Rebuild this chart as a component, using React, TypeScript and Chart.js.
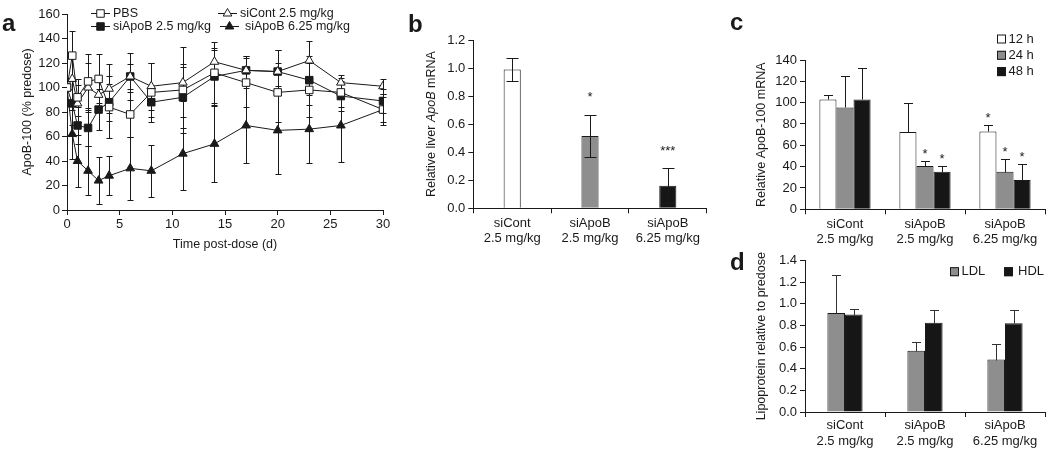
import React, { useEffect, useRef } from 'react';
import { Chart, registerables } from 'chart.js';

Chart.register(...registerables);

const FONT = '"Liberation Sans", Arial, Helvetica, sans-serif';
const INK = '#1a1a1a';
const GRAY = '#8e8e8e';
const WHITE = '#ffffff';
const BLACK = '#161616';

// ---------------- Panel a : ApoB-100 time course ----------------
const days = [0, 0.5, 1, 2, 3, 4, 6, 8, 11, 14, 17, 20, 23, 26, 30];
const pbs = [100, 126, 92, 105, 107, 84, 78, 96, 98, 112, 104, 96, 98, 96, 82];
const pbsErr = [0, 20, 15, 22, 20, 25, 18, 24, 35, 25, 20, 24, 22, 12, 10];
const siCont = [100, 107, 87, 100, 94, 99, 109, 101, 104, 121, 114, 113, 122, 104, 101];
const siContErr = [0, 18, 15, 20, 12, 20, 10, 19, 15, 10, 12, 18, 16, 6, 6];
const siApoB25 = [100, 87, 69, 67, 82, 88, 109, 88, 92, 109, 114, 113, 106, 93, 89];
const siApoB25Err = [0, 18, 15, 15, 17, 15, 19, 12, 25, 23, 12, 18, 20, 12, 10];
const siApoB625 = [100, 62, 40, 32, 24, 28, 34, 32, 46, 54, 69, 65, 66, 69, 82];
const siApoB625Err = [0, 20, 21, 20, 19, 16, 26, 21, 30, 31, 31, 36, 28, 30, 13];
const aXTicks = [0, 5, 10, 15, 20, 25, 30];
const aYTicks = [0, 20, 40, 60, 80, 100, 120, 140, 160];

// ---------------- shared categories ----------------
const doseGroups = [
  ['siCont', '2.5 mg/kg'],
  ['siApoB', '2.5 mg/kg'],
  ['siApoB', '6.25 mg/kg'],
];

// ---------------- Panel b : liver ApoB mRNA ----------------
const liverMRNA = [0.99, 0.515, 0.16];
const liverErr = [0.085, 0.15, 0.125];
const liverSig = ['', '*', '***'];
const bYTicks = [0, 0.2, 0.4, 0.6, 0.8, 1.0, 1.2];

// ---------------- Panel c : ApoB-100 mRNA over time ----------------
const mrna12h = [103, 72.5, 73];
const mrna12hErr = [4.5, 27, 6];
const mrna24h = [95.5, 40.5, 35.3];
const mrna24hErr = [29.5, 4.8, 12];
const mrna48h = [103, 35.3, 27.5];
const mrna48hErr = [29.5, 5.3, 15.3];
const sig12h = ['', '', '*'];
const sig24h = ['', '*', '*'];
const sig48h = ['', '*', '*'];
const cYTicks = [0, 20, 40, 60, 80, 100, 120, 140];

// ---------------- Panel d : lipoproteins ----------------
const ldl = [0.915, 0.565, 0.485];
const ldlErr = [0.355, 0.08, 0.14];
const hdl = [0.9, 0.825, 0.82];
const hdlErr = [0.055, 0.12, 0.125];
const dYTicks = [0, 0.2, 0.4, 0.6, 0.8, 1.0, 1.2, 1.4];

// ---------------- helpers ----------------
const tickFont = { family: FONT, size: 13 };

function axisBase(extra: any = {}) {
  return {
    border: { display: true, color: INK, width: 1 },
    grid: {
      display: true,
      drawOnChartArea: false,
      drawTicks: true,
      tickLength: 5,
      color: INK,
      tickColor: INK,
      tickWidth: 1,
    },
    ...extra,
  };
}

function errorBarPlugin(errs: number[][], opts: { both: boolean; cap: number; front: boolean; color?: string }) {
  const draw = (chart: any) => {
    const ctx = chart.ctx;
    const yScale = chart.scales.y;
    ctx.save();
    ctx.strokeStyle = opts.color || INK;
    ctx.lineWidth = 1;
    chart.data.datasets.forEach((ds: any, i: number) => {
      const err = errs[i];
      if (!err) return;
      const meta = chart.getDatasetMeta(i);
      meta.data.forEach((el: any, j: number) => {
        const e = err[j];
        if (!e) return;
        const raw = ds.data[j];
        const v = typeof raw === 'number' ? raw : raw.y;
        const x = Math.round(el.x) + 0.5;
        const yTop = Math.round(yScale.getPixelForValue(v + e)) + 0.5;
        const yBot = Math.round(yScale.getPixelForValue(opts.both ? Math.max(0, v - e) : v)) + 0.5;
        ctx.beginPath();
        ctx.moveTo(x, yTop);
        ctx.lineTo(x, yBot);
        ctx.moveTo(x - opts.cap, yTop);
        ctx.lineTo(x + opts.cap, yTop);
        if (opts.both) {
          ctx.moveTo(x - opts.cap, yBot);
          ctx.lineTo(x + opts.cap, yBot);
        }
        ctx.stroke();
      });
    });
    ctx.restore();
  };
  return opts.front ? { id: 'errbars', afterDatasetsDraw: draw } : { id: 'errbars', beforeDatasetsDraw: draw };
}

function starsPlugin(sigs: string[][], errs: number[][], gap: number) {
  return {
    id: 'stars',
    afterDatasetsDraw(chart: any) {
      const ctx = chart.ctx;
      const y = chart.scales.y;
      ctx.save();
      ctx.fillStyle = INK;
      ctx.font = `13px ${FONT}`;
      ctx.textAlign = 'center';
      ctx.textBaseline = 'alphabetic';
      chart.data.datasets.forEach((ds: any, i: number) => {
        const s = sigs[i];
        if (!s) return;
        const meta = chart.getDatasetMeta(i);
        meta.data.forEach((el: any, j: number) => {
          if (!s[j]) return;
          const top = y.getPixelForValue(ds.data[j] + errs[i][j]);
          ctx.fillText(s[j], el.x, top - gap + 0.57 * 13);
        });
      });
      ctx.restore();
    },
  };
}

function drawRotated(ctx: any, parts: [string, string][], cx: number, cy: number) {
  ctx.save();
  ctx.translate(cx, cy);
  ctx.rotate(-Math.PI / 2);
  ctx.textBaseline = 'middle';
  ctx.textAlign = 'left';
  ctx.fillStyle = INK;
  let total = 0;
  for (const [t, f] of parts) {
    ctx.font = f;
    total += ctx.measureText(t).width;
  }
  let x = -total / 2;
  for (const [t, f] of parts) {
    ctx.font = f;
    ctx.fillText(t, x, 0);
    x += ctx.measureText(t).width;
  }
  ctx.restore();
}

function drawLetter(ctx: any, letter: string, x: number, y: number) {
  ctx.save();
  ctx.font = `bold 24px ${FONT}`;
  ctx.fillStyle = INK;
  ctx.textAlign = 'left';
  ctx.textBaseline = 'alphabetic';
  ctx.fillText(letter, x, y);
  ctx.restore();
}

function drawMarker(ctx: any, style: string, filled: boolean, x: number, y: number) {
  ctx.save();
  ctx.fillStyle = filled ? INK : WHITE;
  ctx.strokeStyle = INK;
  ctx.lineWidth = 1;
  ctx.beginPath();
  if (style === 'rect') {
    const s = 3.75;
    ctx.rect(x - s, y - s, 2 * s, 2 * s);
  } else {
    const r = 5;
    ctx.moveTo(x, y - r);
    ctx.lineTo(x + r * 0.866, y + r * 0.5);
    ctx.lineTo(x - r * 0.866, y + r * 0.5);
    ctx.closePath();
  }
  ctx.fill();
  ctx.stroke();
  ctx.restore();
}

function drawBox(ctx: any, color: string, x: number, yc: number) {
  ctx.save();
  ctx.fillStyle = color;
  ctx.strokeStyle = INK;
  ctx.lineWidth = 1;
  ctx.fillRect(x, yc - 4.5, 9, 9);
  ctx.strokeRect(x + 0.5, yc - 4, 8, 8);
  ctx.restore();
}

function drawLabel(ctx: any, text: string, x: number, y: number, size = 13) {
  ctx.save();
  ctx.font = `${size}px ${FONT}`;
  ctx.fillStyle = INK;
  ctx.textAlign = 'left';
  ctx.textBaseline = 'middle';
  ctx.fillText(text, x, y);
  ctx.restore();
}

const TITLE_FONT = `12.5px ${FONT}`;
const TITLE_FONT_I = `italic 12.5px ${FONT}`;

// ---------------- chart configs ----------------
const seriesA = [
  { label: 'PBS', data: pbs, err: pbsErr, style: 'rect', filled: false },
  { label: 'siCont 2.5 mg/kg', data: siCont, err: siContErr, style: 'triangle', filled: false },
  { label: 'siApoB 2.5 mg/kg', data: siApoB25, err: siApoB25Err, style: 'rect', filled: true },
  { label: 'siApoB 6.25 mg/kg', data: siApoB625, err: siApoB625Err, style: 'triangle', filled: true },
];

function makeA() {
  const textPlugin = {
    id: 'textA',
    afterDraw(chart: any) {
      const ctx = chart.ctx;
      const ca = chart.chartArea;
      drawLetter(ctx, 'a', 2, 31);
      drawRotated(ctx, [['ApoB-100 (% predose)', TITLE_FONT]], 28, (ca.top + ca.bottom) / 2);
      ctx.save();
      ctx.font = TITLE_FONT;
      ctx.fillStyle = INK;
      ctx.textAlign = 'center';
      ctx.textBaseline = 'middle';
      ctx.fillText('Time post-dose (d)', (ca.left + ca.right) / 2, 245);
      ctx.restore();
      // legend
      const pos = [
        { x1: 91, x2: 110, tx: 113, y: 13 },
        { x1: 218, x2: 237, tx: 240, y: 13 },
        { x1: 91, x2: 110, tx: 113, y: 26 },
        { x1: 220, x2: 239, tx: 245, y: 26 },
      ];
      seriesA.forEach((s, i) => {
        const p = pos[i];
        ctx.save();
        ctx.strokeStyle = INK;
        ctx.lineWidth = 1;
        ctx.beginPath();
        ctx.moveTo(p.x1, p.y + 0.5);
        ctx.lineTo(p.x2, p.y + 0.5);
        ctx.stroke();
        ctx.restore();
        drawMarker(ctx, s.style, s.filled, (p.x1 + p.x2) / 2, p.y + 0.5);
        drawLabel(ctx, s.label, p.tx, p.y + 0.5, 12.5);
      });
    },
  };
  return {
    type: 'line',
    data: {
      datasets: seriesA.map((s) => ({
        label: s.label,
        data: days.map((d, i) => ({ x: d, y: s.data[i] })),
        borderColor: INK,
        borderWidth: 1,
        pointStyle: s.style,
        pointRadius: s.style === 'rect' ? 5.3 : 5,
        pointBackgroundColor: s.filled ? INK : WHITE,
        pointBorderColor: INK,
        pointBorderWidth: 1,
        fill: false,
        tension: 0,
      })),
    },
    options: {
      animation: false,
      responsive: false,
      events: [],
      layout: { padding: { top: 14, right: 17, left: 0, bottom: 0 } },
      plugins: { legend: { display: false }, tooltip: { enabled: false } },
      scales: {
        x: axisBase({
          type: 'linear',
          min: 0,
          max: 30,
          afterBuildTicks: (s: any) => {
            s.ticks = aXTicks.map((v) => ({ value: v }));
          },
          ticks: { font: tickFont, color: INK, padding: 1.5, autoSkip: false, maxRotation: 0 },
          afterFit: (s: any) => {
            s.height = 50;
          },
        }),
        y: axisBase({
          type: 'linear',
          min: 0,
          max: 160,
          afterBuildTicks: (s: any) => {
            s.ticks = aYTicks.map((v) => ({ value: v }));
          },
          ticks: { font: tickFont, color: INK, padding: 2 },
          afterFit: (s: any) => {
            s.width = 67;
          },
        }),
      },
    },
    plugins: [errorBarPlugin(seriesA.map((s) => s.err), { both: true, cap: 3, front: false }), textPlugin],
  };
}

function barScales(yTicks: number[], yMax: number, yWidth: number, xHeight: number, decimals: number, xPad: number) {
  return {
    x: axisBase({
      type: 'category',
      offset: true,
      grid: {
        display: true,
        drawOnChartArea: false,
        drawTicks: true,
        tickLength: 5,
        color: INK,
        tickColor: INK,
        offset: true,
      },
      ticks: { font: tickFont, color: INK, padding: xPad, maxRotation: 0, minRotation: 0, autoSkip: false },
      afterFit: (s: any) => {
        s.height = xHeight;
      },
    }),
    y: axisBase({
      type: 'linear',
      min: 0,
      max: yMax,
      afterBuildTicks: (s: any) => {
        s.ticks = yTicks.map((v) => ({ value: v }));
      },
      ticks: {
        font: tickFont,
        color: INK,
        padding: 3,
        callback: (v: any) => Number(v).toFixed(decimals),
      },
      afterFit: (s: any) => {
        s.width = yWidth;
      },
    }),
  };
}

function makeB() {
  const textPlugin = {
    id: 'textB',
    afterDraw(chart: any) {
      const ctx = chart.ctx;
      const ca = chart.chartArea;
      drawLetter(ctx, 'b', 8, 32);
      drawRotated(
        ctx,
        [
          ['Relative liver ', TITLE_FONT],
          ['ApoB', TITLE_FONT_I],
          [' mRNA', TITLE_FONT],
        ],
        31.7,
        (ca.top + ca.bottom) / 2
      );
    },
  };
  return {
    type: 'bar',
    data: {
      labels: doseGroups,
      datasets: [
        {
          label: 'ApoB mRNA',
          data: liverMRNA,
          backgroundColor: [WHITE, GRAY, BLACK],
          borderColor: INK,
          borderWidth: 1,
          barPercentage: 1,
          categoryPercentage: 0.22,
        },
      ],
    },
    options: {
      animation: false,
      responsive: false,
      events: [],
      layout: { padding: { top: 40, right: 3.3, left: 0, bottom: 0 } },
      plugins: { legend: { display: false }, tooltip: { enabled: false } },
      scales: barScales(bYTicks, 1.2, 73.3, 51.7, 1, 2),
    },
    plugins: [
      errorBarPlugin([liverErr], { both: true, cap: 6, front: true }),
      starsPlugin([liverSig], [liverErr], 21),
      textPlugin,
    ],
  };
}

function makeC() {
  const legend = [
    { label: '12 h', color: WHITE },
    { label: '24 h', color: GRAY },
    { label: '48 h', color: BLACK },
  ];
  const textPlugin = {
    id: 'textC',
    afterDraw(chart: any) {
      const ctx = chart.ctx;
      const ca = chart.chartArea;
      drawLetter(ctx, 'c', 20, 30);
      drawRotated(ctx, [['Relative ApoB-100 mRNA', TITLE_FONT]], 51.7, (ca.top + ca.bottom) / 2);
      legend.forEach((l, i) => {
        const y = 39 + i * 16.3;
        drawBox(ctx, l.color, 287, y);
        drawLabel(ctx, l.label, 298.5, y, 13);
      });
    },
  };
  const mk = (label: string, data: number[], color: string) => ({
    label,
    data,
    backgroundColor: color,
    borderColor: INK,
    borderWidth: 1,
    barPercentage: 1,
    categoryPercentage: 0.64,
  });
  return {
    type: 'bar',
    data: {
      labels: doseGroups,
      datasets: [mk('12 h', mrna12h, WHITE), mk('24 h', mrna24h, GRAY), mk('48 h', mrna48h, BLACK)],
    },
    options: {
      animation: false,
      responsive: false,
      events: [],
      layout: { padding: { top: 60, right: 5, left: 0, bottom: 0 } },
      plugins: { legend: { display: false }, tooltip: { enabled: false } },
      scales: barScales(cYTicks, 140, 95, 45.7, 0, 2),
    },
    plugins: [
      errorBarPlugin([mrna12hErr, mrna24hErr, mrna48hErr], { both: false, cap: 4.5, front: true }),
      starsPlugin([sig12h, sig24h, sig48h], [mrna12hErr, mrna24hErr, mrna48hErr], 10),
      textPlugin,
    ],
  };
}

function makeD() {
  const textPlugin = {
    id: 'textD',
    afterDraw(chart: any) {
      const ctx = chart.ctx;
      const ca = chart.chartArea;
      drawLetter(ctx, 'd', 20, 25);
      drawRotated(ctx, [['Lipoprotein relative to predose', TITLE_FONT]], 51.7, (ca.top + ca.bottom) / 2);
      drawBox(ctx, GRAY, 240, 26.7);
      drawLabel(ctx, 'LDL', 251.5, 26.7, 13);
      drawBox(ctx, BLACK, 294, 26.7);
      drawLabel(ctx, 'HDL', 308, 26.7, 13);
    },
  };
  const mk = (label: string, data: number[], color: string) => ({
    label,
    data,
    backgroundColor: color,
    borderColor: INK,
    borderWidth: 1,
    barPercentage: 1,
    categoryPercentage: 0.44,
  });
  return {
    type: 'bar',
    data: {
      labels: doseGroups,
      datasets: [mk('LDL', ldl, GRAY), mk('HDL', hdl, BLACK)],
    },
    options: {
      animation: false,
      responsive: false,
      events: [],
      layout: { padding: { top: 15.5, right: 5, left: 0, bottom: 0 } },
      plugins: { legend: { display: false }, tooltip: { enabled: false } },
      scales: barScales(dYTicks, 1.4, 95, 38, 1, 1),
    },
    plugins: [
      errorBarPlugin([ldlErr, hdlErr], { both: false, cap: 4.5, front: true, color: '#333' }),
      textPlugin,
    ],
  };
}

function ChartPanel({ left, top, width, height, make }: any) {
  const ref = useRef<HTMLCanvasElement>(null);
  useEffect(() => {
    const chart = new Chart(ref.current as HTMLCanvasElement, make() as any);
    return () => chart.destroy();
  }, []);
  return (
    <canvas
      ref={ref}
      width={width}
      height={height}
      style={{ position: 'absolute', left, top, width, height, display: 'block' }}
    />
  );
}

Chart.defaults.font.family = FONT;
Chart.defaults.color = INK;

export default function App() {
  return (
    <div
      style={{
        position: 'absolute',
        left: 0,
        top: 0,
        width: 1050,
        height: 450,
        background: '#ffffff',
        overflow: 'hidden',
      }}
    >
      <ChartPanel left={0} top={0} width={400} height={260} make={makeA} />
      <ChartPanel left={400} top={0} width={310} height={260} make={makeB} />
      <ChartPanel left={710} top={0} width={340} height={255} make={makeC} />
      <ChartPanel left={710} top={245} width={340} height={205} make={makeD} />
    </div>
  );
}
